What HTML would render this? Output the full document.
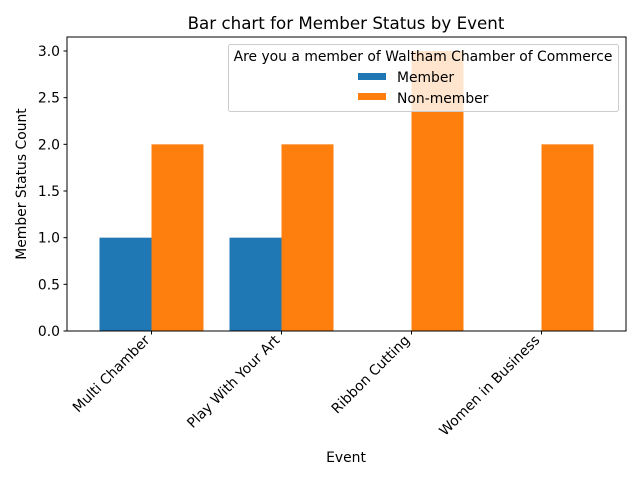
<!DOCTYPE html>
<html><head><meta charset="utf-8"><style>body{margin:0;background:#fff}svg{display:block;font-family:"DejaVu Sans","Liberation Sans",sans-serif}</style></head>
<body>
<svg id="chart" width="640" height="480" viewBox="0 0 640 480" xmlns="http://www.w3.org/2000/svg">
<rect width="640" height="480" fill="#fff"/>
<text x="346" y="29" font-size="16.7" text-anchor="middle">Bar chart for Member Status by Event</text>
<g id="bars"></g><g id="axes"></g>
<text transform="translate(26,184) rotate(-90)" font-size="13.9" text-anchor="middle">Member Status Count</text>
<text x="346" y="462" font-size="13.9" text-anchor="middle">Event</text>
<g>
<rect x="228.5" y="44.5" width="390" height="67" rx="2" fill="#fff" fill-opacity="0.8" stroke="#ccc"/>
<text x="423" y="61" font-size="13.9" text-anchor="middle">Are you a member of Waltham Chamber of Commerce</text>
<rect x="358" y="73" width="28" height="7" fill="#1f77b4"/>
<text x="397" y="82" font-size="13.9">Member</text>
<rect x="358" y="93" width="28" height="7" fill="#ff7f0e"/>
<text x="397" y="103" font-size="13.9">Non-member</text>
</g>
</svg>
<script>
const categories=["Multi Chamber","Play With Your Art","Ribbon Cutting","Women in Business"];
const memberValues=[1,1,0,0];
const nonMemberValues=[2,2,3,2];
const yTicks=[0,0.5,1,1.5,2,2.5,3];
const NS="http://www.w3.org/2000/svg";
const L=67,R=626,T=37,B=331,xmin=-0.65,xmax=3.65,ymax=3.15;
const xs=v=>L+(v-xmin)/(xmax-xmin)*(R-L);
const ys=v=>B-v/ymax*(B-T);
const bw=xs(0.4)-xs(0);
function mk(t,a,p){const e=document.createElementNS(NS,t);for(const k in a)e.setAttribute(k,a[k]);p.appendChild(e);return e;}
const bars=document.getElementById('bars'),axes=document.getElementById('axes');
categories.forEach((c,i)=>{
 const m=mk('rect',{x:xs(i)-bw,y:ys(memberValues[i]),width:bw,height:B-ys(memberValues[i]),fill:'#1f77b4'},bars);
 
 
 const n=mk('rect',{x:xs(i),y:ys(nonMemberValues[i]),width:bw,height:B-ys(nonMemberValues[i]),fill:'#ff7f0e'},bars);
 
 
 mk('line',{x1:xs(i),x2:xs(i),y1:B,y2:B+3.5,stroke:'#000'},axes);
 const t=mk('text',{transform:`translate(${xs(i)-1},${B+10}) rotate(-45)`,'font-size':13.9,'text-anchor':'end'},axes);
 t.textContent=c;
 
 
});
yTicks.forEach(v=>{
 mk('line',{x1:L-3.5,x2:L,y1:ys(v),y2:ys(v),stroke:'#000'},axes);
 const t=mk('text',{x:L-7,y:ys(v)+5,'font-size':13.9,'text-anchor':'end'},axes);
 t.textContent=v.toFixed(1);
 
 
});
const f=mk('rect',{x:L,y:T,width:R-L,height:B-T,fill:'none',stroke:'#000','stroke-width':1},axes);


</script>
</body></html>
